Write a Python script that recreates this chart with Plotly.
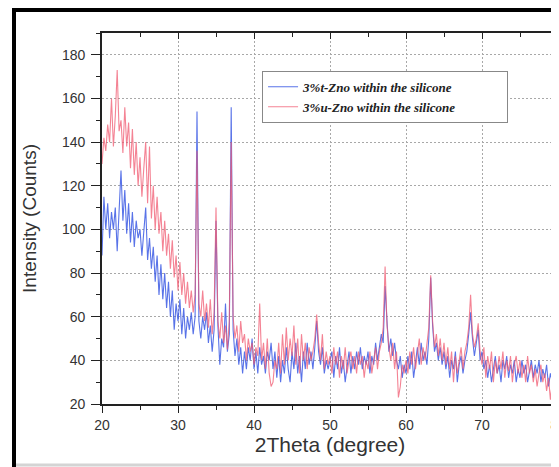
import numpy as np
import plotly.graph_objects as go

# 2Theta grid (degrees), 0.25 deg step from 20 to 80
two_theta = [20 + 0.25 * i for i in range(241)]

# 3%t-ZnO within the silicone (blue)
t_zno = [
    88, 115, 100, 112, 96, 108, 100, 110, 90, 112, 127, 104, 118, 98, 112, 94, 108, 92, 104, 96,
    100, 88, 98, 110, 86, 96, 82, 92, 76, 88, 70, 84, 68, 80, 64, 76, 60, 72, 54, 66,
    58, 68, 52, 64, 50, 60, 54, 62, 52, 60, 154, 58, 50, 60, 54, 62, 48, 56, 44, 54,
    104, 56, 38, 50, 46, 66, 44, 52, 156, 54, 42, 50, 38, 46, 34, 44, 36, 46, 40, 50,
    36, 44, 34, 46, 38, 42, 34, 44, 40, 48, 36, 44, 32, 42, 30, 40, 34, 46, 36, 30,
    44, 36, 48, 34, 42, 30, 44, 36, 48, 38, 44, 36, 46, 58, 44, 38, 46, 34, 40, 36,
    40, 44, 32, 42, 36, 46, 34, 40, 30, 38, 44, 34, 42, 36, 44, 38, 46, 36, 42, 38,
    44, 34, 42, 38, 48, 40, 46, 52, 48, 74, 58, 44, 50, 42, 48, 40, 36, 42, 32, 38,
    34, 42, 36, 44, 32, 40, 46, 38, 48, 40, 44, 38, 50, 78, 56, 44, 48, 40, 46, 38,
    44, 36, 42, 32, 40, 36, 44, 30, 38, 42, 34, 40, 44, 52, 62, 50, 42, 48, 54, 40,
    44, 36, 40, 32, 38, 30, 36, 42, 34, 38, 30, 40, 36, 42, 32, 38, 34, 40, 30, 36,
    32, 40, 34, 38, 30, 36, 40, 32, 38, 34, 40, 30, 36, 32, 38, 28, 34, 30, 26, 32,
    30,
]

# 3%u-ZnO within the silicone (red)
u_zno = [
    130, 142, 136, 148, 140, 160, 138, 152, 173, 145, 150, 135, 156, 138, 149, 128, 146, 125, 140, 120,
    133, 115, 128, 140, 112, 138, 105, 120, 100, 115, 98, 108, 90, 104, 88, 98, 82, 95, 78, 88,
    72, 85, 70, 80, 66, 76, 64, 72, 62, 70, 136, 66, 60, 72, 58, 66, 55, 68, 52, 62,
    110, 58, 50, 62, 48, 56, 45, 58, 140, 60, 50, 56, 44, 58, 48, 52, 40, 50, 44, 48,
    38, 46, 42, 66, 40, 48, 36, 50, 34, 28, 30, 40, 36, 48, 34, 52, 38, 55, 40, 50,
    42, 56, 38, 50, 34, 52, 40, 48, 36, 46, 40, 44, 50, 61, 48, 40, 52, 36, 44, 38,
    42, 34, 46, 38, 44, 32, 42, 36, 46, 34, 40, 44, 36, 42, 34, 44, 38, 42, 32, 40,
    36, 44, 34, 40, 46, 36, 44, 48, 55, 83, 56, 46, 40, 48, 36, 44, 23, 28, 38, 34,
    40, 34, 44, 38, 46, 36, 42, 50, 38, 46, 40, 48, 55, 79, 58, 46, 52, 42, 50, 40,
    48, 38, 46, 36, 44, 30, 42, 34, 40, 46, 36, 44, 48, 55, 70, 52, 46, 50, 57, 44,
    38, 46, 32, 42, 36, 44, 30, 40, 34, 42, 36, 44, 32, 40, 35, 42, 30, 38, 42, 34,
    40, 32, 38, 30, 42, 34, 38, 30, 36, 28, 34, 38, 30, 34, 26, 32, 22, 30, 28, 24,
    26,
]

series_names = ["3%t-Zno within the silicone", "3%u-Zno within the silicone"]
x_ticks = [20, 30, 40, 50, 60, 70, 80]
y_ticks = [20, 40, 60, 80, 100, 120, 140, 160, 180]

PAD = "\u00a0" * 14 + "\u200b"  # widen legend box like the reference

fig = go.Figure()
fig.add_trace(go.Scatter(
    x=two_theta, y=t_zno, mode="lines", name=series_names[0] + PAD,
    line=dict(color="rgba(60,90,228,0.85)", width=1.1),
))
fig.add_trace(go.Scatter(
    x=two_theta, y=u_zno, mode="lines", name=series_names[1] + PAD,
    line=dict(color="rgba(240,90,112,0.75)", width=1.1),
))
# invisible helper trace so the top/right mirror axes are drawn
fig.add_trace(go.Scatter(
    x=two_theta, y=t_zno, mode="lines", xaxis="x2", yaxis="y2",
    line=dict(color="rgba(0,0,0,0)", width=0), showlegend=False, hoverinfo="skip",
))

tick_font = dict(family="Liberation Sans, Arial", size=14, color="#333")
grid = dict(showgrid=True, gridcolor="#a8a8a8", griddash="2px,2px", gridwidth=1)

# page body has an 8px default margin, so the figure starts at (8, 8)
fig.update_layout(
    width=551, height=459,
    margin=dict(l=94, r=1, t=25, b=63, autoexpand=False),
    paper_bgcolor="white", plot_bgcolor="white",
    showlegend=True,
    xaxis=dict(
        range=[20, 80], tickvals=x_ticks, automargin=False, ticklabeloverflow="allow",
        showline=True, linecolor="#222", linewidth=1.6, mirror=False,
        ticks="outside", ticklen=7, tickwidth=1.3, tickcolor="#222",
        minor=dict(ticks="outside", dtick=5, tick0=20, ticklen=4, tickcolor="#222", showgrid=False),
        zeroline=False, tickfont=tick_font, **grid,
        title=dict(text="2Theta (degree)",
                   font=dict(family="Liberation Sans, Arial", size=21, color="#333"), standoff=5),
    ),
    yaxis=dict(
        range=[20, 190], tickvals=y_ticks, automargin=False,
        showline=True, linecolor="#222", linewidth=1.6, mirror=False,
        ticks="outside", ticklen=9, tickwidth=1.3, tickcolor="#222",
        minor=dict(ticks="outside", dtick=10, tick0=20, ticklen=4, tickcolor="#222", showgrid=False),
        zeroline=False, tickfont=tick_font, ticklabelstandoff=3, **grid,
        title=dict(text="Intensity (Counts)",
                   font=dict(family="Liberation Sans, Arial", size=19, color="#333"), standoff=20),
    ),
    xaxis2=dict(
        overlaying="x", side="top", matches="x", automargin=False,
        showline=True, linecolor="#222", linewidth=1.6,
        ticks="inside", ticklen=6, tickwidth=1.3, tickcolor="#222",
        tickvals=x_ticks, showticklabels=False, showgrid=False, zeroline=False,
        minor=dict(ticks="inside", dtick=5, tick0=20, ticklen=4, tickcolor="#222", showgrid=False),
    ),
    yaxis2=dict(
        overlaying="y", side="right", matches="y", automargin=False,
        showline=True, linecolor="#222", linewidth=1.6,
        ticks="inside", ticklen=6, tickwidth=1.3, tickcolor="#222",
        tickvals=y_ticks, showticklabels=False, showgrid=False, zeroline=False,
        minor=dict(ticks="inside", dtick=10, tick0=20, ticklen=4, tickcolor="#222", showgrid=False),
    ),
    legend=dict(
        x=0.351, y=0.898, xanchor="left", yanchor="top",
        bgcolor="white", bordercolor="#888", borderwidth=1,
        font=dict(family="Liberation Serif, Times New Roman", size=13, color="#222",
                  style="italic", weight="bold"),
        tracegroupgap=0,
    ),
    shapes=[
        dict(type="line", xref="paper", yref="paper", layer="above",
             x0=(12 - 102) / 456, x1=(620 - 102) / 456,
             y0=(404 - 10) / 371, y1=(404 - 10) / 371,
             line=dict(color="black", width=4)),
        dict(type="line", xref="paper", yref="paper", layer="above",
             x0=(14 - 102) / 456, x1=(14 - 102) / 456,
             y0=(404 - 8) / 371, y1=(404 - 480) / 371,
             line=dict(color="black", width=4)),
        dict(type="line", xref="paper", yref="paper", layer="above",
             x0=(16 - 102) / 456, x1=(620 - 102) / 456,
             y0=(404 - 465) / 371, y1=(404 - 465) / 371,
             line=dict(color="#d4d4d4", width=3)),
    ],
)

fig.write_html("out.html")
